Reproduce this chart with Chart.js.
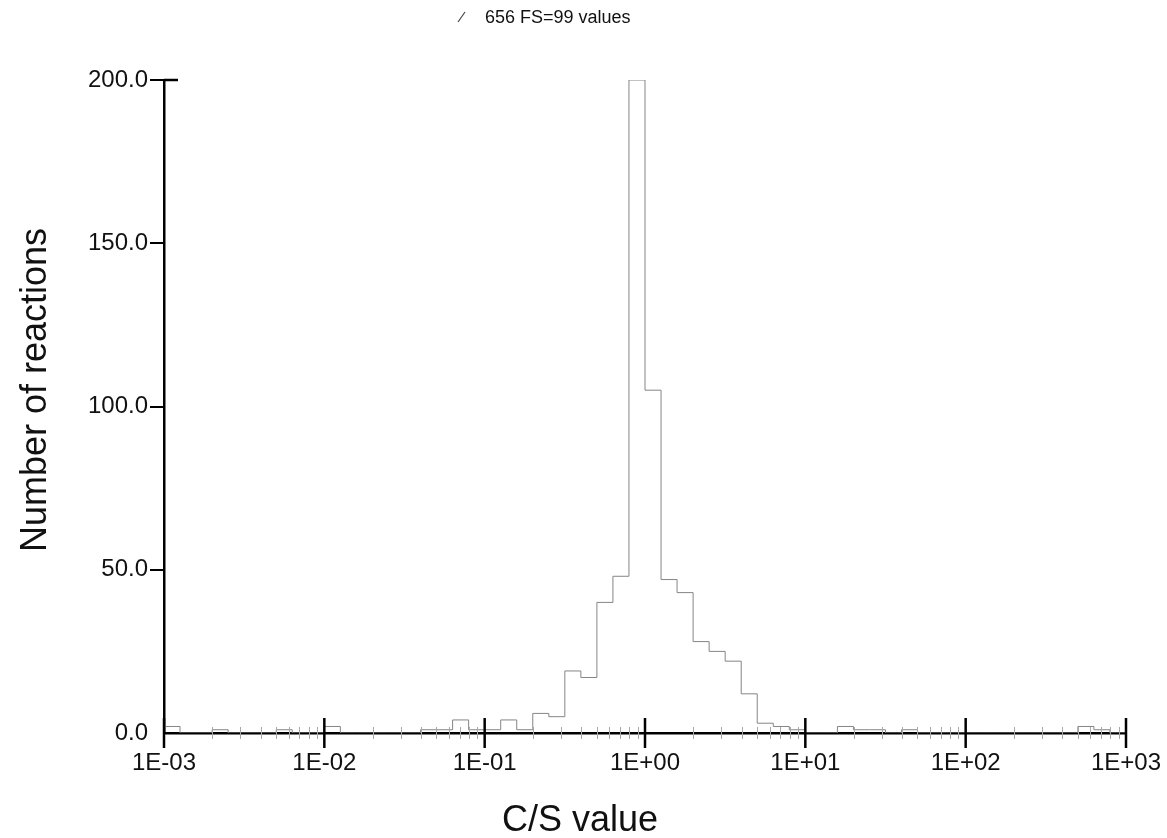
<!DOCTYPE html>
<html>
<head>
<meta charset="utf-8">
<script src="https://cdn.jsdelivr.net/npm/chart.js@4.4.1/dist/chart.umd.min.js"></script>
<style>
  html, body { margin: 0; background: #fff; }
  #wrap { width: 1167px; height: 838px; }
</style>
</head>
<body>
<div id="wrap"><canvas id="myChart"></canvas></div>
<script>
// histogram bins: lower edge as power of ten, 0.1 decade wide
const binExp = [-3.0, -2.9, -2.8, -2.7, -2.6, -2.5, -2.4, -2.3, -2.2, -2.1,
                -2.0, -1.9, -1.8, -1.7, -1.6, -1.5, -1.4, -1.3, -1.2, -1.1,
                -1.0, -0.9, -0.8, -0.7, -0.6, -0.5, -0.4, -0.3, -0.2, -0.1,
                 0.0,  0.1,  0.2,  0.3,  0.4,  0.5,  0.6,  0.7,  0.8,  0.9,
                 1.0,  1.1,  1.2,  1.3,  1.4,  1.5,  1.6,  1.7,  1.8,  1.9,
                 2.0,  2.1,  2.2,  2.3,  2.4,  2.5,  2.6,  2.7,  2.8,  2.9, 3.0];
const counts = [2, 0, 0, 1, 0, 0, 0, 1, 0, 0,
                2, 0, 0, 0, 0, 0, 1, 1, 4, 1,
                1, 4, 1, 6, 5, 19, 17, 40, 48, 200,
                105, 47, 43, 28, 25, 22, 12, 3, 2, 1,
                0, 0, 2, 1, 1, 0, 1, 0, 0, 0,
                0, 0, 0, 0, 0, 0, 0, 2, 1, 0, 0];

const xTickValues = [1e-3, 1e-2, 1e-1, 1e0, 1e1, 1e2, 1e3];
const xTickLabels = ['1E-03', '1E-02', '1E-01', '1E+00', '1E+01', '1E+02', '1E+03'];
const yTickValues = [0, 50, 100, 150, 200];
const yTickLabels = ['0.0', '50.0', '100.0', '150.0', '200.0'];

const xTitle = 'C/S value';
const yTitle = 'Number of reactions';
const headerText = '656 FS=99 values';

const FONT = '"Liberation Sans", Arial, Helvetica, sans-serif';

const points = binExp.map((e, i) => ({ x: 10 ** e, y: counts[i] }));

function line(ctx, x1, y1, x2, y2) {
    ctx.beginPath();
    ctx.moveTo(x1, y1);
    ctx.lineTo(x2, y2);
    ctx.stroke();
}

const decor = {
    id: 'decor',
    afterDraw(chart) {
        const { ctx, chartArea: a, scales: { x, y } } = chart;
        ctx.save();
        // minor ticks on the log axis
        ctx.strokeStyle = '#a8a8a8';
        ctx.lineWidth = 1;
        for (let d = -3; d < 3; d++) {
            for (let m = 2; m < 10; m++) {
                const px = Math.round(x.getPixelForValue(m * 10 ** d)) + 0.5;
                line(ctx, px, a.bottom - 6, px, a.bottom + 6);
            }
        }
        // major ticks cross the axis
        ctx.strokeStyle = '#000';
        ctx.lineWidth = 2.5;
        xTickValues.forEach(v => {
            const px = x.getPixelForValue(v);
            line(ctx, px, a.bottom - 15, px, a.bottom + 15);
        });
        // top tick of y axis reaches to the right too
        const top = y.getPixelForValue(200);
        line(ctx, a.left, top, a.left + 14, top);

        // axis titles
        ctx.fillStyle = '#111';
        ctx.font = '36px ' + FONT;
        ctx.textAlign = 'center';
        ctx.textBaseline = 'alphabetic';
        ctx.fillText(xTitle, 580, 831);
        ctx.save();
        ctx.translate(46, 390);
        ctx.rotate(-Math.PI / 2);
        ctx.fillText(yTitle, 0, 0);
        ctx.restore();

        // header with its line marker
        ctx.strokeStyle = '#444';
        ctx.lineWidth = 1.2;
        line(ctx, 458, 22, 465, 12);
        ctx.font = '18px ' + FONT;
        ctx.textAlign = 'left';
        ctx.fillText(headerText, 485, 23);
        ctx.restore();
    }
};

const ctx = document.getElementById('myChart').getContext('2d');
new Chart(ctx, {
    type: 'line',
    data: {
        datasets: [{
            label: headerText,
            data: points,
            stepped: true,
            borderColor: '#858585',
            borderWidth: 1,
            pointRadius: 0,
            fill: false
        }]
    },
    options: {
        responsive: true,
        maintainAspectRatio: false,
        animation: false,
        layout: { padding: { top: 80, right: 41, left: 0, bottom: 0 } },
        plugins: {
            legend: { display: false },
            tooltip: { enabled: false }
        },
        scales: {
            x: {
                type: 'logarithmic',
                min: 1e-3,
                max: 1e3,
                afterBuildTicks: s => { s.ticks = xTickValues.map(v => ({ value: v })); },
                afterFit: s => {
                    s.height = 105;
                    s.paddingLeft = 0;
                    s.paddingRight = 0;
                },
                grid: { display: false, drawTicks: false },
                border: { display: true, color: '#000', width: 2.5 },
                ticks: {
                    autoSkip: false,
                    maxRotation: 0,
                    padding: 16,
                    color: '#111',
                    font: { family: FONT, size: 24 },
                    callback: (v) => xTickLabels[xTickValues.indexOf(v)] ?? ''
                }
            },
            y: {
                min: 0,
                max: 200,
                afterBuildTicks: s => { s.ticks = yTickValues.map(v => ({ value: v })); },
                afterFit: s => { s.width = 164; },
                grid: {
                    drawOnChartArea: false,
                    drawTicks: true,
                    tickLength: 14,
                    lineWidth: 2,
                    color: c => (c.tick && c.tick.value === 0) ? 'rgba(0,0,0,0)' : '#000'
                },
                border: { display: true, color: '#000', width: 2.5 },
                ticks: {
                    padding: 2,
                    color: '#111',
                    font: { family: FONT, size: 24 },
                    callback: (v) => yTickLabels[yTickValues.indexOf(v)] ?? ''
                }
            }
        }
    },
    plugins: [decor]
});
</script>
</body>
</html>
